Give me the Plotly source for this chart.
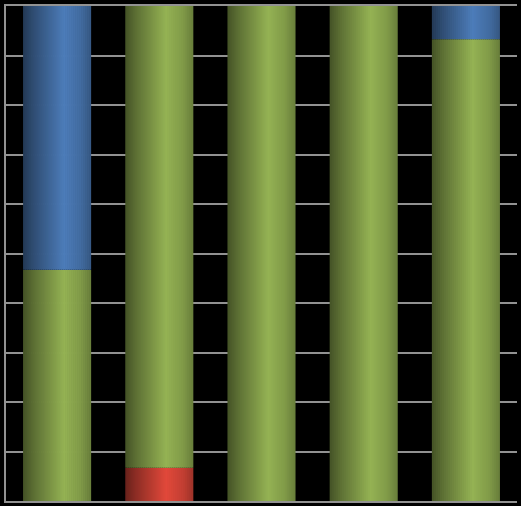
import numpy as np
import plotly.graph_objects as go

# five unlabeled columns, 100% stacked (percent of each column)
categories = ["1", "2", "3", "4", "5"]
red_values = [0, 6.7, 0, 0, 0]
green_values = [46.7, 93.3, 100, 100, 93.3]
blue_values = [53.3, 0, 0, 0, 6.7]

series = [
    ("Red", red_values, "#e2493b"),
    ("Green", green_values, "#95b354"),
    ("Blue", blue_values, "#4d7dba"),
]

BAR_WIDTH = 0.666
N_SLICES = 34
LINE_GREY = "#929292"


def shade(hex_color, t):
    # cylinder-like shading: dark left edge, bright just right of centre
    keys_t = [0.0, 0.15, 0.6, 0.85, 1.0]
    keys_f = [0.46, 0.62, 1.0, 0.86, 0.7]
    f = np.interp(t, keys_t, keys_f)
    r, g, b = (int(hex_color[i:i + 2], 16) for i in (1, 3, 5))
    return "rgb(%d,%d,%d)" % (min(255, r * f), min(255, g * f), min(255, b * f))


fig = go.Figure()

base = np.zeros(len(categories))
step = BAR_WIDTH / N_SLICES
for name, values, color in series:
    vals = np.array(values, dtype=float)
    for k in range(N_SLICES):
        t = (k + 0.5) / N_SLICES
        w = step if k == N_SLICES - 1 else step * 1.4
        fig.add_trace(go.Bar(
            x=categories,
            y=vals,
            base=base.copy(),
            width=w,
            offset=-BAR_WIDTH / 2 + k * step,
            marker=dict(color=shade(color, t), line=dict(width=0)),
            name=name,
            showlegend=False,
            hoverinfo="skip",
        ))
    base = base + vals

fig.update_layout(
    width=521,
    height=506,
    barmode="overlay",
    paper_bgcolor="black",
    plot_bgcolor="black",
    margin=dict(l=6, r=4, t=6, b=5),
    showlegend=False,
    xaxis=dict(
        type="category",
        range=[-0.5, 4.5],
        showticklabels=False,
        ticks="",
        showgrid=False,
        showline=True,
        mirror=True,  # top line stands in for the 100% gridline
        linecolor=LINE_GREY,
        linewidth=2,
        zeroline=False,
    ),
    yaxis=dict(
        range=[0, 100],
        dtick=10,
        showticklabels=False,
        ticks="",
        showgrid=True,
        gridcolor=LINE_GREY,
        gridwidth=2,
        showline=True,
        linecolor=LINE_GREY,
        linewidth=2,
        zeroline=False,
    ),
)

# page body has a default margin; drop it so the figure sits at the window's corner
fig.write_html(
    "out.html",
    config={"displayModeBar": False},
    post_script="document.body.style.margin='0';",
)
